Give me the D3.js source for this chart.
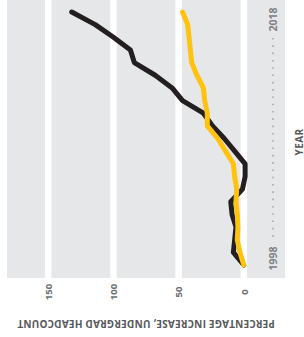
<!DOCTYPE html>
<html>
<head>
<meta charset="utf-8">
<script src="https://cdn.jsdelivr.net/npm/d3@7"></script>
<style>
  body { margin: 0; background: #fff; }
  svg { display: block; }
  text { font-family: "Open Sans", sans-serif; font-weight: 700; }
</style>
</head>
<body>
<svg id="chart"></svg>
<script>
// Chart data (the chart is drawn turned on its side: years run bottom to top)
const years = [1998, 1999, 2000, 2001, 2002, 2003, 2004, 2005, 2006, 2007,
               2008, 2009, 2010, 2011, 2012, 2013, 2014, 2015, 2016, 2017, 2018];
const blackSeries = [0, 8, 7, 6, 9, 10, 1, -1, -1, 7,
                     15, 24, 31, 47, 55, 68, 84, 87, 100, 114, 132];
const yellowSeries = [0, 3, 5, 4.5, 5, 6, 5.5, 7, 8, 14,
                      20, 28, 28, 30, 31, 36, 40, 41, 42, 43, 47];
const valueTicks = [0, 50, 100, 150];
const yearLabels = [1998, 2018];
const valueTitle = "PERCENTAGE INCREASE, UNDERGRAD HEADCOUNT";
const yearTitle = "YEAR";

const width = 304;
const height = 337;

const svg = d3.select("#chart")
    .attr("width", width)
    .attr("height", height);

// Panel bounds
const panel = { left: 7, right: 285, top: 0, bottom: 278 };

// Value scale runs right to left, year scale bottom to top
const x = d3.scaleLinear().domain([0, 150]).range([243.8, 48.3]);
const y = d3.scaleLinear().domain([1998, 2018]).range([265, 12]);

// Gray background panel
svg.append("rect")
    .attr("x", panel.left)
    .attr("y", panel.top)
    .attr("width", panel.right - panel.left)
    .attr("height", panel.bottom - panel.top)
    .attr("fill", "#e6e7e8");

// White gridlines at value ticks
svg.selectAll(".grid")
    .data(valueTicks)
    .enter()
    .append("line")
    .attr("class", "grid")
    .attr("x1", d => x(d))
    .attr("x2", d => x(d))
    .attr("y1", panel.top)
    .attr("y2", panel.bottom)
    .attr("stroke", "#fff")
    .attr("stroke-width", 6.5);

// Dotted year axis line
svg.append("line")
    .attr("x1", 273)
    .attr("x2", 273)
    .attr("y1", y(2018) + 26)
    .attr("y2", y(1998) - 28)
    .attr("stroke", "#a7a9ac")
    .attr("stroke-width", 1.6)
    .attr("stroke-dasharray", "1.6 5.7");

// Value axis labels
const valueAxis = svg.append("g")
    .attr("transform", `translate(0,${panel.bottom})`)
    .call(d3.axisBottom(x).tickValues(valueTicks).tickSize(0));
valueAxis.select(".domain").remove();
valueAxis.selectAll("text")
    .attr("x", 0)
    .attr("y", 0)
    .attr("dy", "0.35em")
    .attr("transform", "translate(0,14) rotate(-90)")
    .attr("text-anchor", "middle")
    .attr("font-size", 9.5)
    .attr("font-family", "'Open Sans', sans-serif")
    .attr("fill", "#6d6e71");

// Year axis labels at the ends of the dotted line
const yearAxis = svg.append("g")
    .attr("transform", "translate(273,0)")
    .call(d3.axisRight(y).tickValues(yearLabels).tickSize(0).tickFormat(d3.format("d")));
yearAxis.select(".domain").remove();
yearAxis.selectAll("text")
    .attr("x", 0)
    .attr("y", 0)
    .attr("dy", "0.35em")
    .attr("transform", d => d === 1998 ? "translate(0,5) rotate(-90)" : "translate(0,-5) rotate(-90)")
    .attr("text-anchor", d => d === 1998 ? "start" : "end")
    .attr("font-size", 10.5)
    .attr("font-family", "'Open Sans', sans-serif")
    .attr("fill", "#808285");

// Lines
const line = d3.line()
    .x(d => x(d.value))
    .y(d => y(d.year));

const series = [
    { values: blackSeries, color: "#231f20" },
    { values: yellowSeries, color: "#ffc20e" }
];

svg.selectAll(".series")
    .data(series)
    .enter()
    .append("path")
    .attr("class", "series")
    .attr("d", s => line(years.map((yr, i) => ({ year: yr, value: s.values[i] }))))
    .attr("fill", "none")
    .attr("stroke", s => s.color)
    .attr("stroke-width", 5)
    .attr("stroke-linecap", "round")
    .attr("stroke-linejoin", "round");

// Axis titles
svg.append("text")
    .attr("transform", "translate(146,323) rotate(180)")
    .attr("dy", "0.35em")
    .attr("text-anchor", "middle")
    .attr("font-size", 10)
    .attr("letter-spacing", 0.2)
    .attr("fill", "#58595b")
    .text(valueTitle);

svg.append("text")
    .attr("transform", "translate(299,142) rotate(-90)")
    .attr("dy", "0.35em")
    .attr("text-anchor", "middle")
    .attr("font-size", 10)
    .attr("letter-spacing", 0.4)
    .attr("fill", "#58595b")
    .text(yearTitle);
</script>
</body>
</html>
